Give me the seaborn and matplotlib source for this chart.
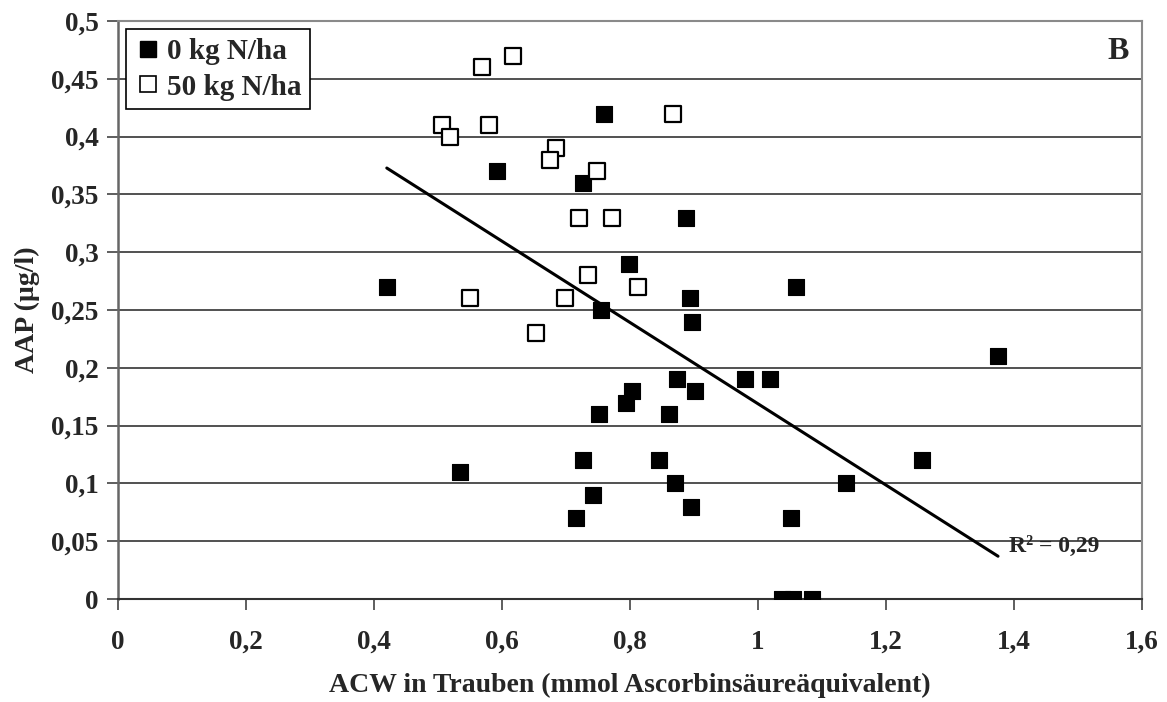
import numpy as np
import pandas as pd
import matplotlib
matplotlib.use("Agg")
import matplotlib.pyplot as plt
import seaborn as sns
from matplotlib.lines import Line2D

# Antioxidative capacity of the grapes (x) vs. AAP content (y), two N fertilisation levels
acw_0n = [0.760, 0.592, 0.727, 0.888, 0.798, 0.420, 1.059, 0.893, 0.754, 0.897,
          1.375, 0.873, 0.980, 1.019, 0.803, 0.902, 0.794, 0.752, 0.861, 0.727,
          0.846, 1.257, 0.534, 0.871, 1.137, 0.742, 0.895, 0.716, 1.051, 1.037,
          1.054, 1.085]
aap_0n = [0.42, 0.37, 0.36, 0.33, 0.29, 0.27, 0.27, 0.26, 0.25, 0.24,
          0.21, 0.19, 0.19, 0.19, 0.18, 0.18, 0.17, 0.16, 0.16, 0.12,
          0.12, 0.12, 0.11, 0.10, 0.10, 0.09, 0.08, 0.07, 0.07, 0.00,
          0.00, 0.00]

acw_50n = [0.617, 0.569, 0.507, 0.519, 0.579, 0.685, 0.675, 0.748, 0.867, 0.720,
           0.772, 0.735, 0.813, 0.550, 0.698, 0.653]
aap_50n = [0.47, 0.46, 0.41, 0.40, 0.41, 0.39, 0.38, 0.37, 0.42, 0.33,
           0.33, 0.28, 0.27, 0.26, 0.26, 0.23]

groups = ["0 kg N/ha", "50 kg N/ha"]
x_ticks = [0, 0.2, 0.4, 0.6, 0.8, 1.0, 1.2, 1.4, 1.6]
y_ticks = [0, 0.05, 0.1, 0.15, 0.2, 0.25, 0.3, 0.35, 0.4, 0.45, 0.5]
r2_label = "0,29"

df = pd.DataFrame({
    "ACW": acw_0n + acw_50n,
    "AAP": aap_0n + aap_50n,
    "Variante": [groups[0]] * len(acw_0n) + [groups[1]] * len(acw_50n),
})

sns.set_theme(style="white")
plt.rcParams["font.family"] = ["Liberation Serif", "DejaVu Serif"]
plt.rcParams["font.weight"] = "bold"

fig = plt.figure(figsize=(11.67, 7.02), dpi=100)
ax = fig.add_axes([0.1011, 0.1467, 0.8775, 0.8233])

# horizontal grid
for yv in y_ticks[1:]:
    ax.axhline(yv, color="#222222", lw=1.1, zorder=0)

# linear trend over all points
sns.regplot(data=df, x="ACW", y="AAP", scatter=False, ci=None, ax=ax,
            line_kws=dict(color="black", lw=2.2, zorder=2))

msize = 135
sns.scatterplot(data=df[df["Variante"] == groups[0]], x="ACW", y="AAP", ax=ax,
                marker="s", s=msize, color="black", edgecolor="black",
                linewidth=0.8, zorder=3, legend=False)
sns.scatterplot(data=df[df["Variante"] == groups[1]], x="ACW", y="AAP", ax=ax,
                marker="s", s=msize, facecolor="white", edgecolor="black",
                linewidth=1.6, zorder=4, legend=False)

ax.set_xlim(0, 1.6)
ax.set_ylim(0, 0.5)
ax.set_xticks(x_ticks)
ax.set_yticks(y_ticks)


def comma(v):
    s = f"{v:.2f}".rstrip("0").rstrip(".")
    return s.replace(".", ",")


ax.set_xticklabels([comma(v) for v in x_ticks], fontsize=19.5, fontweight="bold")
ax.set_yticklabels([comma(v) for v in y_ticks], fontsize=19.5, fontweight="bold")
ax.tick_params(axis="both", direction="out", length=8, width=1.1, color="#333333",
               bottom=True, left=True)
ax.tick_params(axis="x", pad=14)
ax.tick_params(axis="y", pad=6)

for side in ["top", "right"]:
    ax.spines[side].set_color("#8a8a8a")
    ax.spines[side].set_linewidth(1.5)
ax.spines["left"].set_color("#666666")
ax.spines["left"].set_linewidth(1.8)
ax.spines["bottom"].set_color("#333333")
ax.spines["bottom"].set_linewidth(1.5)

ax.set_xlabel("ACW in Trauben (mmol Ascorbinsäureäquivalent)", fontsize=20,
              fontweight="bold", labelpad=13)
ax.set_ylabel("AAP (µg/l)", fontsize=20, fontweight="bold", labelpad=8)

handles = [
    Line2D([], [], marker="s", ls="none", markersize=12, markerfacecolor="black",
           markeredgecolor="black"),
    Line2D([], [], marker="s", ls="none", markersize=12, markerfacecolor="white",
           markeredgecolor="black", markeredgewidth=1.2),
]
leg = ax.legend(handles, groups, loc="upper left", bbox_to_anchor=(0.008, 0.986),
                fancybox=False, framealpha=1, edgecolor="black", handletextpad=0.2,
                handlelength=0.9, borderpad=0.3, labelspacing=0.3,
                prop=dict(size=21, weight="bold"), borderaxespad=0)
leg.get_frame().set_linewidth(1.2)

ax.text(0.987, 0.948, "B", transform=ax.transAxes, ha="right", va="center",
        fontsize=23, fontweight="bold")
ax.text(1.392, 0.055, "R² = " + r2_label, ha="left", va="top",
        fontsize=17, fontweight="bold")

fig.savefig("out.png", dpi=100)
